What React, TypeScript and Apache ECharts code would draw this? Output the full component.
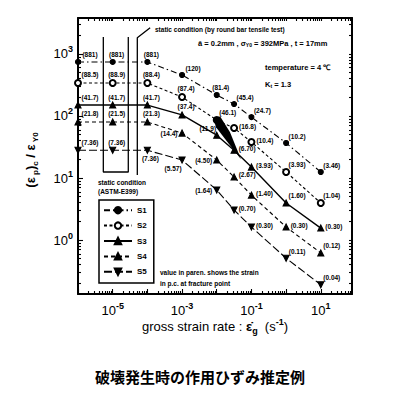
import React, { useEffect, useRef } from "react";
import * as echarts from "echarts";

// ---- data ----
const strainRates = [1e-6, 1e-5, 1e-4, 1e-3, 1e-2, 10 ** -1.5, 1e-1, 1, 10];
const s1Values = [743, 743, 743, 458, 218, 156, 96, 36.7, 12.5];
const s2Values = [340, 340, 340, 202, 86, 64, 38, 12.5, 3.95];
const s3Values = [150, 150, 150, 104, 49, 28, 15, 3.95, 1.56];
const s4Values = [80, 80, 80, 53, 19.5, 10.4, 5.3, 1.62, 0.62];
const s5Values = [28, 28, 28, 19.5, 6.4, 3.05, 1.62, 0.51, 0.19];
const s1Labels = ["(881)", "(881)", "(881)", "(120)", "(81.4)", "(45.4)", "(24.7)", "(10.2)", "(3.46)"];
const s2Labels = ["(88.5)", "(88.9)", "(88.4)", "(87.4)", "(46.1)", "(16.8)", "(10.4)", "(3.93)", "(1.04)"];
const s3Labels = ["(41.7)", "(41.7)", "(41.7)", "(37.4)", "(11.9)", "(6.70)", "(3.93)", "(1.60)", "(0.30)"];
const s4Labels = ["(21.8)", "(21.5)", "(21.3)", "(14.4)", "(4.50)", "(2.67)", "(1.40)", "(0.30)", "(0.12)"];
const s5Labels = ["(7.36)", "(7.36)", "(7.36)", "(5.57)", "(1.64)", "(0.70)", "(0.30)", "(0.11)", "(0.04)"];
const seriesNames = ["S1", "S2", "S3", "S4", "S5"];
const xTickLabels = [-5, -3, -1, 1];
const yTickLabels = [0, 1, 2, 3];
// static-condition bracket lines (strain rate, ratio)
const astmBracket: [number, number][] = [
  [10 ** -5.27, 1870], [10 ** -5.27, 12.5], [10 ** -4.55, 12.5], [10 ** -4.55, 1870],
];
const roundBarLine: [number, number][] = [
  [10 ** -4.29, 11.2], [10 ** -4.29, 1830], [10 ** -3.92, 2650],
];
const arrowShape: [number, number][] = [
  [10 ** -2.1, 92], [10 ** -1.9, 98], [10 ** -1.62, 55], [10 ** -1.3, 20], [10 ** -1.72, 40], [10 ** -2.02, 66],
];

// ---- styles ----
const FONT = "'Liberation Sans', Arial, sans-serif";
const X_MIN = -6, X_MAX = 1.9, Y_MIN = -0.87, Y_MAX = 3.58;

const majors = (a: number, b: number) => {
  const r: number[] = [];
  for (let n = Math.ceil(a); n <= b; n++) r.push(n);
  return r;
};
const minors = (a: number, b: number) => {
  const r: number[] = [];
  for (let n = Math.floor(a); n <= b; n++)
    for (let k = 2; k <= 9; k++) {
      const v = n + Math.log10(k);
      if (v > a && v < b) r.push(v);
    }
  return r;
};

const posMap: Record<string, any> = {
  T0: { position: "top", offset: [12, 1] },
  T: { position: "top", offset: [4, 1] },
  TR: { position: "top", offset: [11, 2] },
  TL: { position: "top", offset: [-9, 2] },
  R: { position: "right", offset: [-1, -2] },
  L: { position: "left", offset: [1, 0] },
  B: { position: "bottom", offset: [3, -1] },
  BL: { position: "bottom", offset: [-9, -1] },
};
const s1Pos = ["T0", "T", "T", "TR", "T", "TR", "TR", "TR", "TR"];
const s2Pos = ["T0", "T", "T", "T", "TR", "R", "R", "TR", "TR"];
const s3Pos = ["T0", "T", "T", "T", "TL", "R", "R", "TR", "R"];
const s4Pos = ["T0", "T", "T", "L", "L", "R", "R", "R", "TR"];
const s5Pos = ["T0", "T", "B", "BL", "L", "R", "R", "TR", "TR"];

const seriesStyles = [
  { symbol: "circle", size: 5, dash: [6, 3, 1.5, 3], width: 1.1, rotate: 0 },
  { symbol: "emptyCircle", size: 6, dash: [3, 2.5], width: 1.1, rotate: 0 },
  { symbol: "triangle", size: 6, dash: "solid", width: 1.4, rotate: 0 },
  { symbol: "triangle", size: 6, dash: [4, 3], width: 1.1, rotate: 0 },
  { symbol: "triangle", size: 6, dash: [8, 3], width: 1.1, rotate: 180 },
];
const allValues = [s1Values, s2Values, s3Values, s4Values, s5Values];
const allLabels = [s1Labels, s2Labels, s3Labels, s4Labels, s5Labels];
const allPos = [s1Pos, s2Pos, s3Pos, s4Pos, s5Pos];

const supRich = {
  b: { fontSize: 13, fontFamily: FONT, color: "#000", lineHeight: 18, fontWeight: 500 },
  s: { fontSize: 9, fontFamily: FONT, color: "#000", lineHeight: 9, verticalAlign: "top", fontWeight: "bold" },
};

function buildOption() {
  const lineSeries = seriesNames.map((name, i) => {
    const st = seriesStyles[i];
    return {
      name,
      type: "line",
      clip: false,
      symbol: st.symbol,
      symbolSize: st.size,
      symbolRotate: st.rotate,
      showAllSymbol: true,
      color: "#000",
      itemStyle: { color: "#000", borderColor: "#000", borderWidth: 1.1 },
      lineStyle: { color: "#000", width: st.width, type: st.dash },
      data: strainRates.map((x, j) => ({
        value: [Math.log10(x), Math.log10(allValues[i][j])],
        label: {
          show: true,
          formatter: allLabels[i][j],
          fontSize: 6.5,
          fontWeight: "bold",
          fontFamily: FONT,
          color: "#000",
          distance: 2,
          ...posMap[allPos[i][j]],
        },
      })),
      z: 5,
    };
  });
  const plain = (name: string, pts: [number, number][], w = 1.3) => ({
    name,
    type: "line",
    clip: false,
    symbol: "none",
    silent: true,
    lineStyle: { color: "#000", width: w, type: "solid" },
    data: pts.map(([x, y]) => [Math.log10(x), Math.log10(y)]),
    z: 3,
  });
  const tickAxis = (kind: "x" | "y", position: string, values: number[], len: number, showLine: boolean) => ({
    type: "value",
    min: kind === "x" ? X_MIN : Y_MIN,
    max: kind === "x" ? X_MAX : Y_MAX,
    position,
    axisLine: { show: showLine, onZero: false, lineStyle: { color: "#000", width: 2 } },
    splitLine: { show: false },
    axisTick: { show: true, inside: true, length: len, customValues: values, lineStyle: { color: "#000", width: 1.1 } },
    axisLabel: { show: false },
  });
  return {
    animation: false,
    backgroundColor: "#fff",
    grid: { left: 78, top: 18, width: 274, height: 276, containLabel: false },
    xAxis: [
      {
        ...tickAxis("x", "bottom", majors(X_MIN, X_MAX), 5, true),
        axisLabel: {
          show: true,
          customValues: xTickLabels,
          margin: 7,
          formatter: (v: number) => `{b|10}{s|${v}}`,
          rich: supRich,
        },
      },
      tickAxis("x", "bottom", minors(X_MIN, X_MAX), 3, false),
      tickAxis("x", "top", [...majors(X_MIN, X_MAX), ...minors(X_MIN, X_MAX)], 3, true),
    ],
    yAxis: [
      {
        ...tickAxis("y", "left", majors(Y_MIN, Y_MAX), 5, true),
        axisLabel: {
          show: true,
          customValues: yTickLabels,
          margin: 5,
          formatter: (v: number) => `{b|10}{s|${v}}`,
          rich: supRich,
        },
      },
      tickAxis("y", "left", minors(Y_MIN, Y_MAX), 3, false),
      tickAxis("y", "right", [...majors(Y_MIN, Y_MAX), ...minors(Y_MIN, Y_MAX)], 3, true),
    ],
    legend: {
      data: seriesNames,
      orient: "vertical",
      left: 99,
      top: 200,
      itemWidth: 28,
      itemHeight: 8,
      itemGap: 7,
      padding: [6, 7, 7, 4],
      borderColor: "#000",
      borderWidth: 1.5,
      backgroundColor: "#fff",
      textStyle: { fontSize: 8, fontWeight: "bold", fontFamily: FONT, color: "#000" },
      selectedMode: false,
    },
    series: [
      ...lineSeries,
      plain("astm", astmBracket),
      plain("roundbar", roundBarLine),
    ],
  };
}

export default function App() {
  const ref = useRef<HTMLDivElement>(null);
  useEffect(() => {
    document.body.style.margin = "0";
    const chart = echarts.init(ref.current!, null, { renderer: "svg" });
    chart.setOption(buildOption());
    const toPx = ([x, y]: [number, number]) =>
      chart.convertToPixel({ gridIndex: 0 }, [Math.log10(x), Math.log10(y)]) as number[];
    const small = { fontSize: 6.5, fontWeight: "bold", fontFamily: FONT, fill: "#000" };
    const mid = { fontSize: 7.5, fontWeight: "bold", fontFamily: FONT, fill: "#000" };
    const subRich = { fontSize: 5, fontWeight: "bold", fontFamily: FONT, verticalAlign: "bottom", lineHeight: 6 };
    chart.setOption({
      graphic: [
        { type: "polygon", shape: { points: arrowShape.map(toPx) }, style: { fill: "#000" }, z: 10 },
        { type: "text", x: 155, y: 26, style: { ...small, text: "static condition (by round bar tensile test)" } },
        {
          type: "text", x: 198, y: 39,
          style: { ...mid, text: "ā = 0.2mm , σ{sub|Y0} = 392MPa , t = 17mm", rich: { sub: subRich } },
        },
        { type: "text", x: 265, y: 63, style: { ...mid, text: "temperature = 4 ℃" } },
        {
          type: "text", x: 265, y: 80,
          style: { ...mid, text: "K{sub|t} = 1.3", rich: { sub: subRich } },
        },
        { type: "text", x: 98, y: 179, style: { ...small, text: "static condition" } },
        { type: "text", x: 98, y: 188, style: { ...small, text: "(ASTM-E399)" } },
        { type: "text", x: 160, y: 269, style: { ...small, text: "value in paren. shows the strain" } },
        { type: "text", x: 160, y: 280, style: { ...small, text: "in p.c. at fracture point" } },
        {
          type: "text", x: 215, y: 326,
          style: {
            text: "gross strain rate : {g|ε̇}{sub|g}  (s{sup|-1})",
            fontSize: 13, fontFamily: FONT, fill: "#000", fontWeight: 500,
            align: "center", verticalAlign: "middle",
            rich: {
              g: { fontSize: 13, fontFamily: FONT, fontWeight: "bold", lineHeight: 18 },
              sub: { fontSize: 9, fontFamily: FONT, fontWeight: "bold", verticalAlign: "bottom", lineHeight: 9 },
              sup: { fontSize: 9, fontFamily: FONT, fontWeight: "bold", verticalAlign: "top", lineHeight: 9 },
            },
          },
        },
        {
          type: "text", x: 30, y: 160, rotation: Math.PI / 2,
          style: {
            text: "({g|ε}{sub| p}){sub|c} / {g|ε}{sub| Y0}",
            fontSize: 13, fontFamily: FONT, fill: "#000", fontWeight: "bold",
            align: "center", verticalAlign: "middle",
            rich: {
              g: { fontSize: 13, fontFamily: FONT, fontWeight: "bold", lineHeight: 18 },
              sub: { fontSize: 8, fontFamily: FONT, fontWeight: "bold", verticalAlign: "bottom", lineHeight: 8 },
            },
          },
        },
        {
          type: "text", x: 200, y: 376,
          style: {
            text: "破壊発生時の作用ひずみ推定例",
            fontSize: 15, fontFamily: "'Noto Sans CJK JP'", fontWeight: "bold", fill: "#000",
            align: "center", verticalAlign: "middle",
          },
        },
      ],
    });
    return () => chart.dispose();
  }, []);
  return <div ref={ref} style={{ width: 400, height: 393 }} />;
}
